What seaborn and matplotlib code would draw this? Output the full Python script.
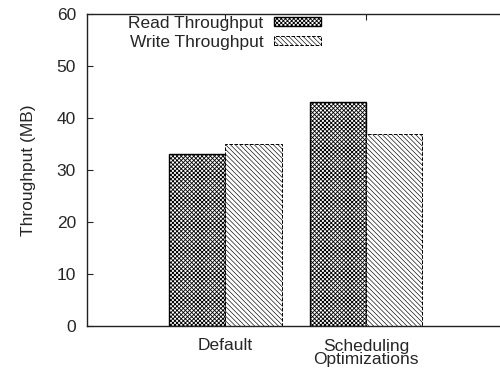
import matplotlib
matplotlib.use("Agg")
import matplotlib.pyplot as plt
import seaborn as sns
import pandas as pd
from matplotlib.patches import Patch

categories = ["Default", "Scheduling\nOptimizations"]
series = ["Read Throughput", "Write Throughput"]
read_values = [33, 43]
write_values = [35, 37]
y_ticks = [0, 10, 20, 30, 40, 50, 60]

sns.set_theme(style="ticks")
plt.rcParams['font.family'] = ['Liberation Sans', 'DejaVu Sans']
plt.rcParams['hatch.linewidth'] = 0.6
plt.rcParams['hatch.color'] = 'black'

df = pd.DataFrame({
    "category": categories * 2,
    "series": [series[0]] * 2 + [series[1]] * 2,
    "value": read_values + write_values,
})

FS = 12.5

fig, ax = plt.subplots(figsize=(5.0, 3.72), dpi=100)
fig.subplots_adjust(left=87/500, right=1.0, top=1-14/372, bottom=1-326/372)

sns.barplot(data=df, x="category", y="value", hue="series", order=categories,
            hue_order=series, palette=["white", "white"], edgecolor="black",
            linewidth=1.0, width=0.8, gap=0, ax=ax, legend=False)

hatches = ["x" * 8, "\\" * 7]
styles = ["-", "--"]
hlw = [0.6, 0.45]
for cont, h, ls, hw in zip(ax.containers, hatches, styles, hlw):
    for p in cont:
        p.set_hatch(h)
        p.set_linestyle(ls)
        p.set_edgecolor("black")
        p.set_linewidth(1.0 if ls == "-" else 0.7)
        if hasattr(p, "set_hatch_linewidth"):
            p.set_hatch_linewidth(hw)

ax.set_xlim(-0.98, 1.95)
ax.set_ylim(0, 60)
ax.set_yticks(y_ticks)
ax.set_yticklabels([str(t) for t in y_ticks], fontsize=FS)
ax.set_xlabel("")
ax.set_ylabel("Throughput (MB)", fontsize=FS, labelpad=15)
ax.tick_params(axis="x", labelsize=FS, direction="in", length=4, top=True, width=0.8, pad=9)
ax.tick_params(axis="y", direction="in", length=4, width=0.8, pad=8)
for lab in ax.get_xticklabels():
    lab.set_linespacing(0.9)

for s in ["left", "top", "bottom"]:
    ax.spines[s].set_visible(True)
    ax.spines[s].set_linewidth(1.0)
    ax.spines[s].set_color("#222222")
ax.spines["right"].set_visible(False)

handles = [Patch(facecolor="white", edgecolor="black", hatch=hatches[0], linewidth=1.0),
           Patch(facecolor="white", edgecolor="black", hatch=hatches[1], linestyle="--", linewidth=0.7)]
leg = ax.legend(handles, series, loc="upper right", bbox_to_anchor=(0.57, 1.0),
                frameon=False, markerfirst=False, fontsize=FS, handlelength=2.7,
                handleheight=0.4, handletextpad=0.6, borderpad=0.1, labelspacing=0.22,
                borderaxespad=0)
for hp, hw in zip(leg.get_patches(), hlw):
    if hasattr(hp, "set_hatch_linewidth"):
        hp.set_hatch_linewidth(hw)

fig.savefig("out.png", dpi=100)
